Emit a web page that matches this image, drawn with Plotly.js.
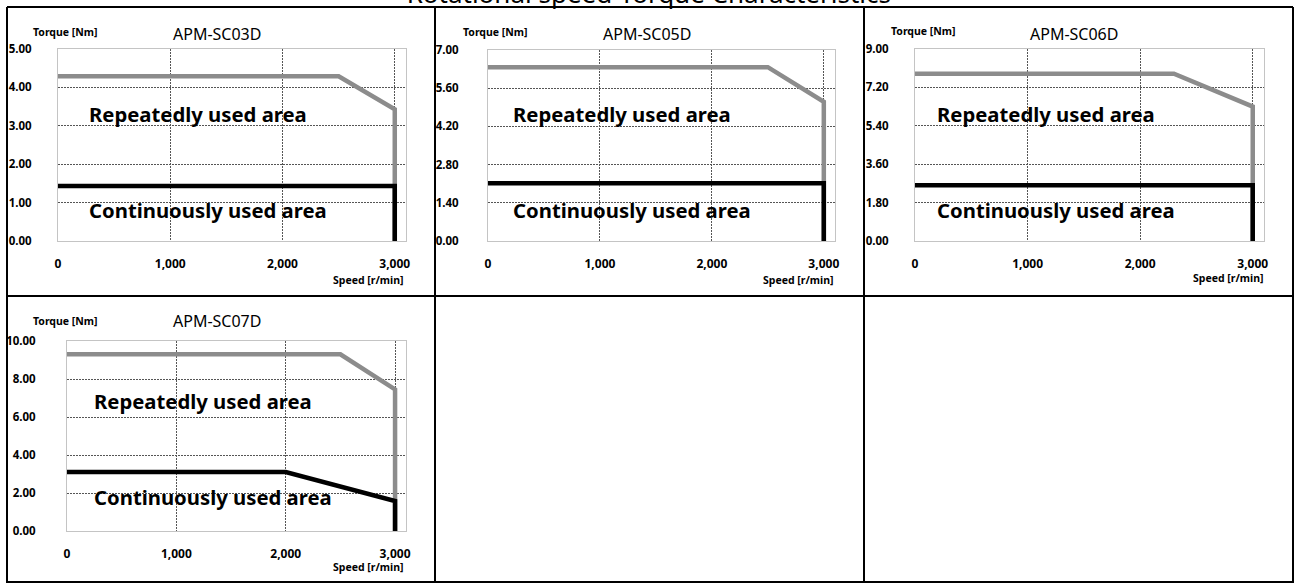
<!DOCTYPE html>
<html>
<head>
<meta charset="utf-8">
<script src="https://cdn.plot.ly/plotly-3.0.1.min.js"></script>
<style>html,body{margin:0;padding:0;background:#fff;}#chart{width:1298px;height:583px;}</style>
</head>
<body>
<div id="chart"></div>
<script>
// ---- data ----
const models = ['APM-SC03D', 'APM-SC05D', 'APM-SC06D', 'APM-SC07D'];
const pageTitle = '< Rotational speed-Torque Characteristics >';
const yAxisLabel = 'Torque [Nm]';
const xAxisLabel = 'Speed [r/min]';
const areaPeakLabel = 'Repeatedly used area';
const areaRatedLabel = 'Continuously used area';

const speedTicks = [0, 1000, 2000, 3000];

const sc03PeakSpeed = [0, 2500, 3000, 3000];
const sc03PeakTorque = [4.29, 4.29, 3.43, 0];
const sc03RatedSpeed = [0, 3000, 3000];
const sc03RatedTorque = [1.43, 1.43, 0];
const sc03TorqueTicks = [0, 1, 2, 3, 4, 5];

const sc05PeakSpeed = [0, 2500, 3000, 3000];
const sc05PeakTorque = [6.37, 6.37, 5.1, 0];
const sc05RatedSpeed = [0, 3000, 3000];
const sc05RatedTorque = [2.12, 2.12, 0];
const sc05TorqueTicks = [0, 1.4, 2.8, 4.2, 5.6, 7.0];

const sc06PeakSpeed = [0, 2300, 3000, 3000];
const sc06PeakTorque = [7.84, 7.84, 6.3, 0];
const sc06RatedSpeed = [0, 3000, 3000];
const sc06RatedTorque = [2.61, 2.61, 0];
const sc06TorqueTicks = [0, 1.8, 3.6, 5.4, 7.2, 9.0];

const sc07PeakSpeed = [0, 2500, 3000, 3000];
const sc07PeakTorque = [9.3, 9.3, 7.45, 0];
const sc07RatedSpeed = [0, 2000, 3000, 3000];
const sc07RatedTorque = [3.1, 3.1, 1.58, 0];
const sc07TorqueTicks = [0, 2, 4, 6, 8, 10];

// ---- layout geometry (pixels) ----
const W = 1298, H = 583;
const px = x => x / W;
const py = y => 1 - y / H;
const FONT = 'Noto Sans, Open Sans, sans-serif';

const panels = [
  {peakX: sc03PeakSpeed, peakY: sc03PeakTorque, ratedX: sc03RatedSpeed, ratedY: sc03RatedTorque, ticks: sc03TorqueTicks,
   box: [58, 406, 49, 241], title: [217, 34], ylab: [31, 32], xlab: [406, 280], rep: [87, 114], cont: [87, 210], standoff: 23},
  {peakX: sc05PeakSpeed, peakY: sc05PeakTorque, ratedX: sc05RatedSpeed, ratedY: sc05RatedTorque, ticks: sc05TorqueTicks,
   box: [488, 835, 50, 241], title: [647, 34], ylab: [461, 32], xlab: [836, 280], rep: [511, 114], cont: [511, 210], standoff: 26},
  {peakX: sc06PeakSpeed, peakY: sc06PeakTorque, ratedX: sc06RatedSpeed, ratedY: sc06RatedTorque, ticks: sc06TorqueTicks,
   box: [915, 1264, 49, 241], title: [1074, 34], ylab: [889, 31], xlab: [1266, 278], rep: [935, 114], cont: [935, 210], standoff: 23},
  {peakX: sc07PeakSpeed, peakY: sc07PeakTorque, ratedX: sc07RatedSpeed, ratedY: sc07RatedTorque, ticks: sc07TorqueTicks,
   box: [67, 406, 341, 531], title: [217, 321], ylab: [31, 321], xlab: [406, 567], rep: [92, 401], cont: [92, 497], standoff: 28}
];

const traces = [];
const layout = {
  width: W, height: H,
  margin: {l: 0, r: 0, t: 0, b: 0},
  paper_bgcolor: '#ffffff', plot_bgcolor: '#ffffff',
  showlegend: false,
  font: {family: FONT, color: '#000'},
  annotations: [], shapes: []
};

panels.forEach((p, i) => {
  const n = i === 0 ? '' : String(i + 1);
  const xa = 'x' + n, ya = 'y' + n;
  traces.push({x: p.peakX, y: p.peakY, xaxis: xa, yaxis: ya, mode: 'lines',
    line: {color: '#8c8c8c', width: 4.5}, hoverinfo: 'skip'});
  traces.push({x: p.ratedX, y: p.ratedY, xaxis: xa, yaxis: ya, mode: 'lines',
    line: {color: '#000000', width: 4.5}, hoverinfo: 'skip'});
  const [l, r, t, b] = p.box;
  layout['xaxis' + n] = {
    domain: [px(l), px(r)], anchor: ya, range: [0, 3100], fixedrange: true,
    tickvals: speedTicks, tickformat: ',d', ticks: '', ticklabelstandoff: 12,
    tickfont: {family: FONT, size: 12, weight: 'bold', color: '#000'},
    showgrid: true, gridcolor: '#555555', gridwidth: 1, griddash: '2px,1px',
    zeroline: false, showline: true, mirror: true, linecolor: '#c4c4c4', linewidth: 1
  };
  layout['yaxis' + n] = {
    domain: [py(b), py(t)], anchor: xa, range: [0, p.ticks[p.ticks.length - 1]], fixedrange: true,
    tickvals: p.ticks, tickformat: '.2f', ticks: '', ticklabelstandoff: p.standoff,
    tickfont: {family: FONT, size: 11.5, weight: 'bold', color: '#000'},
    showgrid: true, gridcolor: '#555555', gridwidth: 1, griddash: '2px,1px',
    zeroline: false, showline: true, mirror: true, linecolor: '#c4c4c4', linewidth: 1
  };
  const ann = (text, x, y, size, weight, xanchor) => layout.annotations.push({
    text: text, xref: 'paper', yref: 'paper', x: px(x), y: py(y), xanchor: xanchor, yanchor: 'middle',
    showarrow: false, font: {family: FONT, size: size, weight: weight, color: '#000'}
  });
  ann(models[i], p.title[0], p.title[1], 16, 'normal', 'center');
  ann(yAxisLabel, p.ylab[0], p.ylab[1], 10.5, 'bold', 'left');
  ann(xAxisLabel, p.xlab[0], p.xlab[1], 10.5, 'bold', 'right');
  ann(areaPeakLabel, p.rep[0], p.rep[1], 20.3, 'bold', 'left');
  ann(areaRatedLabel, p.cont[0], p.cont[1], 20.3, 'bold', 'left');
});

// page title, clipped at the top edge
layout.annotations.push({
  text: pageTitle, xref: 'paper', yref: 'paper', x: px(649), y: py(13),
  xanchor: 'center', yanchor: 'bottom', showarrow: false,
  font: {family: FONT, size: 26, color: '#000'}
});

// table grid lines
const line = (x0, y0, x1, y1) => layout.shapes.push({
  type: 'line', xref: 'paper', yref: 'paper', x0: px(x0), y0: py(y0), x1: px(x1), y1: py(y1),
  line: {color: '#000', width: 2}
});
line(7, 7, 1293, 7);
line(7, 296, 1293, 296);
line(7, 582, 1293, 582);
line(7, 7, 7, 583);
line(435, 7, 435, 583);
line(864, 7, 864, 583);
line(1293, 7, 1293, 583);

Plotly.newPlot('chart', traces, layout, {displayModeBar: false, staticPlot: true});
</script>
</body>
</html>
